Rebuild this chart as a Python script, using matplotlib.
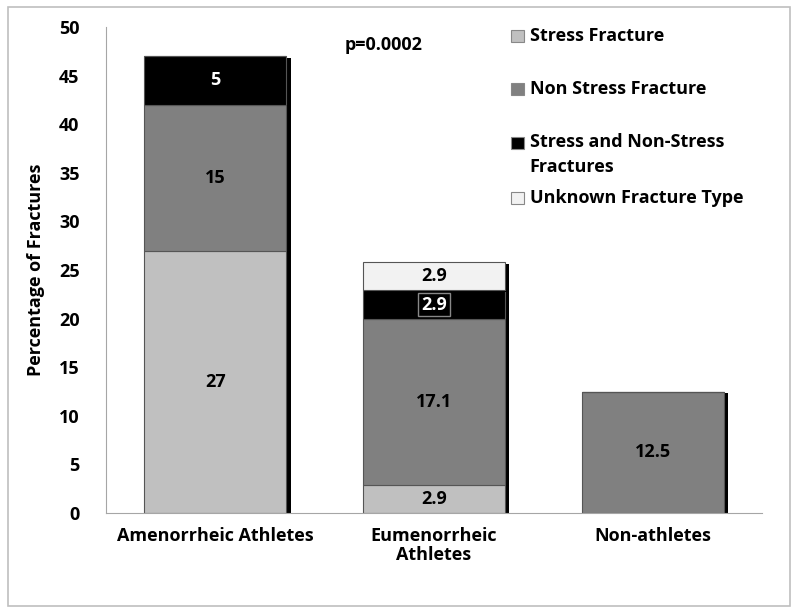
import numpy as np
import matplotlib.pyplot as plt
import matplotlib.patheffects as pe
from matplotlib.patches import Rectangle

# data
groups = ['Amenorrheic Athletes', 'Eumenorrheic\nAthletes', 'Non-athletes']
stress = [27, 2.9, 0]
non_stress = [15, 17.1, 12.5]
both = [5, 2.9, 0]
unknown = [0, 2.9, 0]
series_names = ['Stress Fracture', 'Non Stress Fracture',
                'Stress and Non-Stress\nFractures', 'Unknown Fracture Type']
colors = ['#c0c0c0', '#808080', '#000000', '#f2f2f2']
label_colors = ['black', 'black', 'white', 'black']

plt.rcParams['font.family'] = ['Open Sans', 'DejaVu Sans']
plt.rcParams['font.weight'] = 'bold'
fs = 13

fig = plt.figure(figsize=(8, 6.14), dpi=100)
ax = fig.add_axes([0.1325, 0.1645, 0.82, 0.7915])

# border round the figure
fig.patches.append(Rectangle((0.01, 0.013), 0.978, 0.975, transform=fig.transFigure,
                             fill=False, edgecolor='#bfbfbf', lw=1.2))

x = np.arange(len(groups))
width = 0.65
shadow = [pe.SimplePatchShadow(offset=(3, -1), shadow_rgbFace='black', alpha=1), pe.Normal()]

bottom = np.zeros(len(groups))
for vals, col, lc in zip([stress, non_stress, both, unknown], colors, label_colors):
    vals = np.array(vals, dtype=float)
    bars = ax.bar(x, vals, width, bottom=bottom, color=col, edgecolor='#555555', lw=0.8, zorder=2)
    for b in bars:
        b.set_path_effects(shadow)
    for xi, v, b0 in zip(x, vals, bottom):
        if v <= 0:
            continue
        kw = {}
        if col == '#000000' and v < 4:
            kw['bbox'] = dict(boxstyle='square,pad=0.15', fc='black', ec='#888888', lw=1)
        ax.text(xi, b0 + v / 2, f'{v:g}', ha='center', va='center', color=lc,
                fontsize=fs, fontweight='bold', zorder=4, **kw)
    bottom += vals

ax.set_xlim(-0.5, 2.5)
ax.set_ylim(0, 50)
ax.set_yticks(np.arange(0, 51, 5))
ax.set_xticks(x)
ax.set_xticklabels(groups, fontsize=fs, fontweight='bold', linespacing=1.1)
ax.tick_params(axis='y', length=0, labelsize=fs, pad=19)
ax.tick_params(axis='x', length=0, pad=10)
for s in ['top', 'right']:
    ax.spines[s].set_visible(False)
for s in ['left', 'bottom']:
    ax.spines[s].set_color('#a6a6a6')
ax.set_ylabel('Percentage of Fractures', fontsize=fs, fontweight='bold', labelpad=10)

ax.text(0.59, 48.1, 'p=0.0002', fontsize=fs, fontweight='bold', va='center')

# legend, drawn by hand so the two-line entry sits like the original
leg_y = [0.941, 0.855, 0.766, 0.677]
for name, col, yy in zip(series_names, colors, leg_y):
    fig.patches.append(Rectangle((0.639, yy - 0.009), 0.016, 0.0195, transform=fig.transFigure,
                                 facecolor=col, edgecolor='#888888', lw=0.8))
    if '\n' in name:
        fig.text(0.662, yy + 0.017, name, fontsize=fs, fontweight='bold', va='top',
                 linespacing=1.45)
    else:
        fig.text(0.662, yy, name, fontsize=fs, fontweight='bold', va='center')

fig.savefig('out.png', dpi=100)
